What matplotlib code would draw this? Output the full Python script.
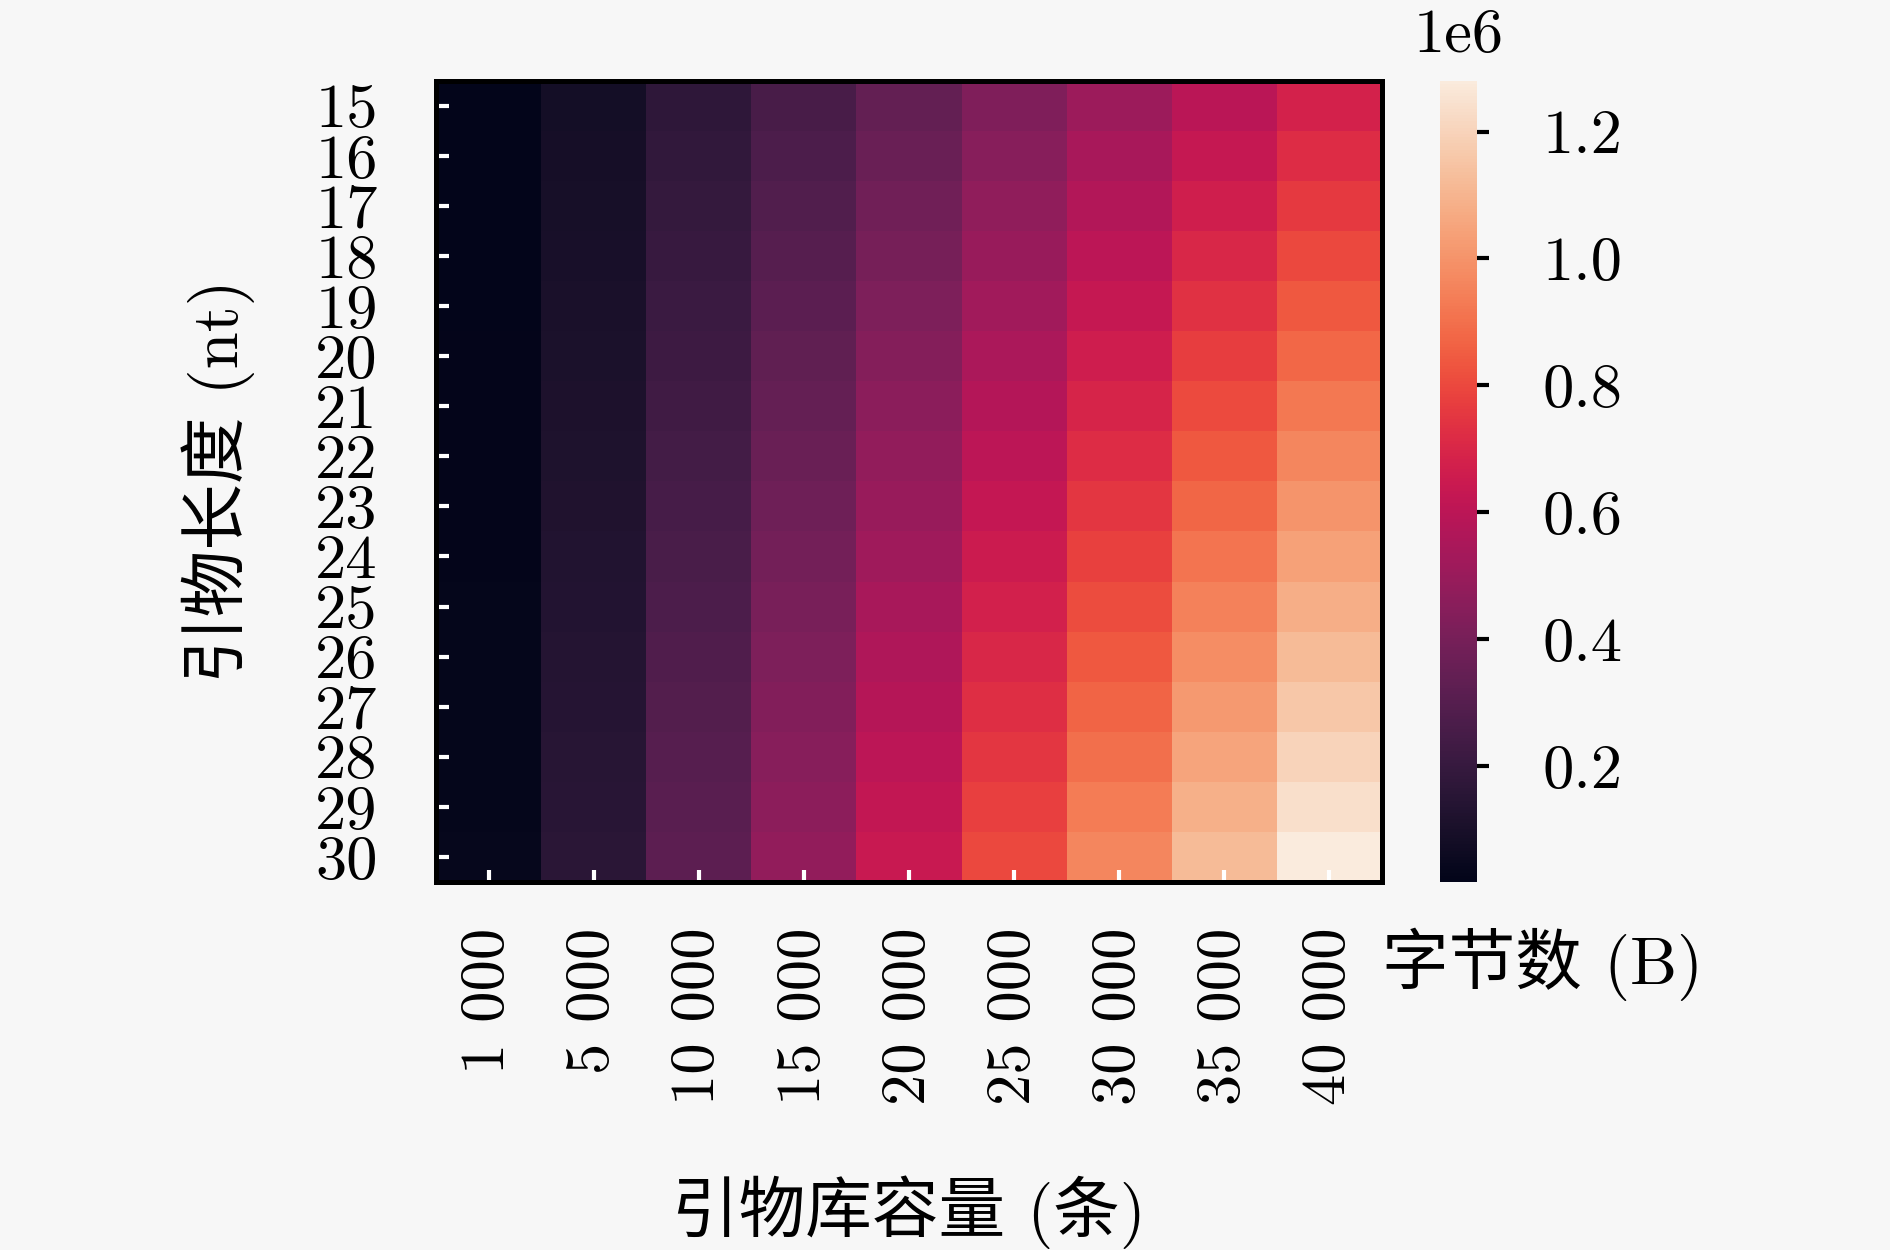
import numpy as np
import matplotlib
matplotlib.use("Agg")
import matplotlib.pyplot as plt
import seaborn as sns
from matplotlib.ticker import FuncFormatter

# primer pool capacity (columns) and primer length (rows)
capacity_labels = ["1 000", "5 000", "10 000", "15 000", "20 000",
                   "25 000", "30 000", "35 000", "40 000"]
length_labels = ["15", "16", "17", "18", "19", "20", "21", "22",
                 "23", "24", "25", "26", "27", "28", "29", "30"]

# bytes
byte_count = np.array([
    [17000,  85000, 170000, 255000, 340000, 425000, 510000,  595000,  680000],
    [18000,  90000, 180000, 270000, 360000, 450000, 540000,  630000,  720000],
    [19000,  95000, 190000, 285000, 380000, 475000, 570000,  665000,  760000],
    [20000, 100000, 200000, 300000, 400000, 500000, 600000,  700000,  800000],
    [21000, 105000, 210000, 315000, 420000, 525000, 630000,  735000,  840000],
    [22000, 110000, 220000, 330000, 440000, 550000, 660000,  770000,  880000],
    [23000, 115000, 230000, 345000, 460000, 575000, 690000,  805000,  920000],
    [24000, 120000, 240000, 360000, 480000, 600000, 720000,  840000,  960000],
    [25000, 125000, 250000, 375000, 500000, 625000, 750000,  875000, 1000000],
    [26000, 130000, 260000, 390000, 520000, 650000, 780000,  910000, 1040000],
    [27000, 135000, 270000, 405000, 540000, 675000, 810000,  945000, 1080000],
    [28000, 140000, 280000, 420000, 560000, 700000, 840000,  980000, 1120000],
    [29000, 145000, 290000, 435000, 580000, 725000, 870000, 1015000, 1160000],
    [30000, 150000, 300000, 450000, 600000, 750000, 900000, 1050000, 1200000],
    [31000, 155000, 310000, 465000, 620000, 775000, 930000, 1085000, 1240000],
    [32000, 160000, 320000, 480000, 640000, 800000, 960000, 1120000, 1280000],
])

cbar_ticks = [0.2e6, 0.4e6, 0.6e6, 0.8e6, 1.0e6, 1.2e6]

bg = '#f7f7f7'
plt.rcParams.update({
    'font.family':               ['cmr10', 'Noto Sans CJK SC'],
    'mathtext.fontset':          'cm',
    'axes.formatter.use_mathtext': True,
    'axes.unicode_minus':        False,
    'font.size':                 15,
})

fig = plt.figure(figsize=(6.3, 1250 / 300), dpi=300, facecolor=bg)
ax = fig.add_axes([0.2307, 0.2944, 0.5005, 0.641])
cax = fig.add_axes([0.7619, 0.2944, 0.0196, 0.641])

cmap = sns.color_palette("rocket", as_cmap=True)
n_rows, n_cols = byte_count.shape
mesh = ax.pcolormesh(np.arange(n_cols + 1), np.arange(n_rows + 1), byte_count,
                     cmap=cmap, vmin=byte_count.min(), vmax=byte_count.max())
ax.set_xlim(0, n_cols)
ax.set_ylim(n_rows, 0)

ax.set_xticks(np.arange(n_cols) + 0.5)
ax.set_xticklabels(capacity_labels, rotation=90, fontsize=15)
ax.set_yticks(np.arange(n_rows) + 0.5)
ax.set_yticklabels(length_labels, rotation=0, fontsize=15)
ax.tick_params(axis='x', direction='in', color='white', length=3, width=1, pad=11)
ax.tick_params(axis='y', direction='in', color='white', length=3, width=1, pad=14)
for sp in ax.spines.values():
    sp.set_linewidth(1.2)
    sp.set_color('black')

ax.set_xlabel('引物库容量 (条)', fontsize=16)
ax.xaxis.set_label_coords(0.5, -0.366)
ax.set_ylabel('引物长度 (nt)', fontsize=16)
ax.yaxis.set_label_coords(-0.191, 0.5)

cbar = fig.colorbar(mesh, cax=cax)
cbar.outline.set_visible(False)
cbar.set_ticks(cbar_ticks)
cbar.ax.yaxis.set_major_formatter(FuncFormatter(lambda v, p: f"{v / 1e6:.1f}"))
cbar.ax.tick_params(direction='out', length=2.8, width=1, pad=13, labelsize=15)

fig.text(0.7717, 0.971, '1e6', ha='center', va='center', fontsize=15)
fig.text(0.8164, 0.2288, '字节数 (B)', ha='center', va='center', fontsize=16)

fig.savefig('out.png', dpi=300, facecolor=bg)
